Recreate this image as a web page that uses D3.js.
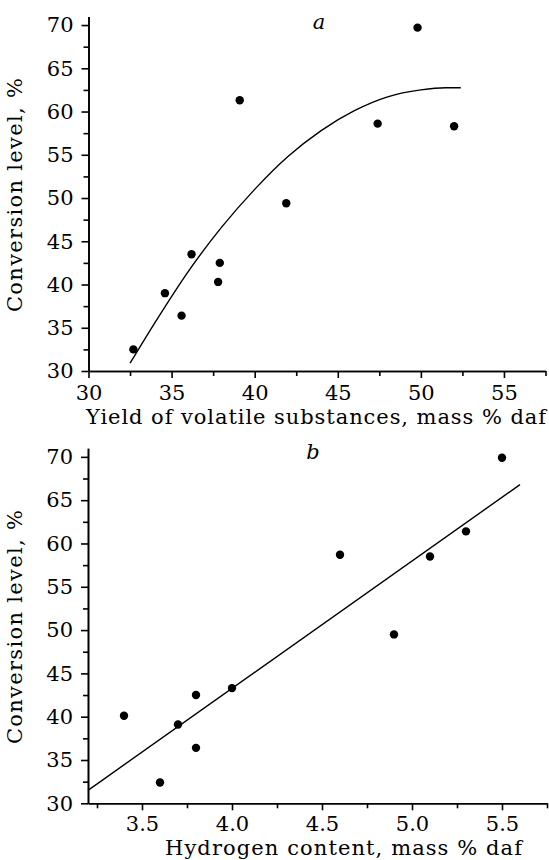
<!DOCTYPE html>
<html>
<head>
<meta charset="utf-8">
<script src="https://cdn.jsdelivr.net/npm/d3@7"></script>
<style>
	body { margin: 0; background: #fff; }
	svg { display: block; }
	svg text { font-family: "DejaVu Serif", serif !important; }
	.axis path, .axis line { stroke: #000; stroke-width: 1.6px; }
	.axis text { font-size: 21px; fill: #000; }
	.title { font-size: 21px; fill: #000; }
</style>
</head>
<body>
<svg id="myGraph" width="549" height="860"></svg>
<script>
// (a) yield of volatile substances vs conversion
var volatileX = [32.7, 34.6, 35.6, 36.2, 37.9, 37.8, 39.1, 41.9, 47.4, 49.8, 52.0]
var conversionA = [32.5, 39.0, 36.4, 43.5, 42.5, 40.3, 61.3, 49.4, 58.6, 69.7, 58.3]
// fitted curve
var curveX = [32.5, 34, 36, 38, 40, 42, 44, 46, 48, 50, 51.5, 52.4]
var curveY = [30.9, 35.6, 41.5, 46.6, 51.0, 54.8, 57.8, 60.1, 61.7, 62.5, 62.75, 62.75]

// (b) hydrogen content vs conversion
var hydrogenX = [3.4, 3.6, 3.7, 3.8, 3.8, 4.0, 4.6, 4.9, 5.1, 5.3, 5.5]
var conversionB = [40.1, 32.4, 39.1, 42.5, 36.4, 43.3, 58.7, 49.5, 58.5, 61.4, 69.9]
// regression line ends
var lineX = [3.2, 5.6]
var lineY = [31.5, 66.8]

// tick labels
var yMajor = [30, 35, 40, 45, 50, 55, 60, 65, 70]
var yMinor = [32.5, 37.5, 42.5, 47.5, 52.5, 57.5, 62.5, 67.5]
var xMajorA = [30, 35, 40, 45, 50, 55]
var xMinorA = [32.5, 37.5, 42.5, 47.5, 52.5, 57.5]
var xMajorB = [3.5, 4.0, 4.5, 5.0, 5.5]
var xMinorB = [3.25, 3.75, 4.25, 4.75, 5.25, 5.75]

var svg = d3.select("#myGraph")

function drawPanel(cfg) {
	var x = d3.scaleLinear().domain(cfg.xDomain).range(cfg.xRange)
	var y = d3.scaleLinear().domain([30, 71]).range(cfg.yRange)
	var g = svg.append("g")

	// y axis : major + minor
	g.append("g").attr("class", "axis")
		.attr("transform", "translate(" + cfg.xRange[0] + ",0)")
		.call(d3.axisLeft(y).tickValues(yMinor).tickSize(5).tickSizeOuter(0).tickFormat(""))
	g.append("g").attr("class", "axis")
		.attr("transform", "translate(" + cfg.xRange[0] + ",0)")
		.call(d3.axisLeft(y).tickValues(yMajor).tickSize(7).tickSizeOuter(0).tickPadding(8))

	// x axis
	var x0 = y(30)
	g.append("g").attr("class", "axis")
		.attr("transform", "translate(0," + x0 + ")")
		.call(d3.axisBottom(x).tickValues(cfg.xMinor).tickSize(5).tickSizeOuter(0).tickFormat(""))
	g.append("g").attr("class", "axis")
		.attr("transform", "translate(0," + x0 + ")")
		.call(d3.axisBottom(x).tickValues(cfg.xMajor).tickSize(7).tickSizeOuter(0)
			.tickPadding(cfg.pad).tickFormat(cfg.fmt))
	g.selectAll(".axis").attr("font-family", null)

	// fit line
	var pts = cfg.lx.map(function(d, i) { return [d, cfg.ly[i]] })
	g.append("path")
		.attr("d", d3.line().x(function(d) { return x(d[0]) }).y(function(d) { return y(d[1]) })
			.curve(d3.curveMonotoneX)(pts))
		.attr("fill", "none")
		.attr("stroke", "#000")
		.attr("stroke-width", 1.4)

	// points
	g.selectAll("circle.dot")
		.data(cfg.px)
		.enter()
		.append("circle")
		.attr("class", "dot")
		.attr("cx", function(d) { return x(d) })
		.attr("cy", function(d, i) { return y(cfg.py[i]) })
		.attr("r", 4.2)
		.attr("fill", "#000")

	// axis titles
	var yMid = (y(30) + y(70)) / 2 - 3
	g.append("text")
		.attr("class", "title")
		.attr("transform", "translate(22," + (yMid + 117) + ") rotate(-90)")
		.attr("textLength", 234)
		.attr("lengthAdjust", "spacing")
		.text("Conversion level, %")
	g.append("text")
		.attr("class", "title")
		.attr("x", cfg.tx)
		.attr("y", cfg.ty)
		.attr("textLength", cfg.tw)
		.attr("lengthAdjust", "spacing")
		.text(cfg.title)

	// panel letter
	g.append("text")
		.attr("class", "title")
		.attr("x", cfg.lxPos)
		.attr("y", cfg.lyPos)
		.attr("text-anchor", "middle")
		.style("font-style", "italic")
		.text(cfg.letter)
}

drawPanel({
	xDomain: [30, 57.5], xRange: [88.5, 545.5], yRange: [371, 16.4],
	xMajor: xMajorA, xMinor: xMinorA, fmt: d3.format("d"), pad: 7,
	px: volatileX, py: conversionA, lx: curveX, ly: curveY,
	title: "Yield of volatile substances, mass % daf", tx: 86, ty: 424, tw: 460,
	letter: "a", lxPos: 319, lyPos: 29
})

drawPanel({
	xDomain: [3.2, 5.75], xRange: [88, 547], yRange: [803.3, 448.2],
	xMajor: xMajorB, xMinor: xMinorB, fmt: d3.format(".1f"), pad: 6,
	px: hydrogenX, py: conversionB, lx: lineX, ly: lineY,
	title: "Hydrogen content, mass % daf", tx: 165, ty: 855, tw: 357,
	letter: "b", lxPos: 313, lyPos: 459
})
</script>
</body>
</html>
